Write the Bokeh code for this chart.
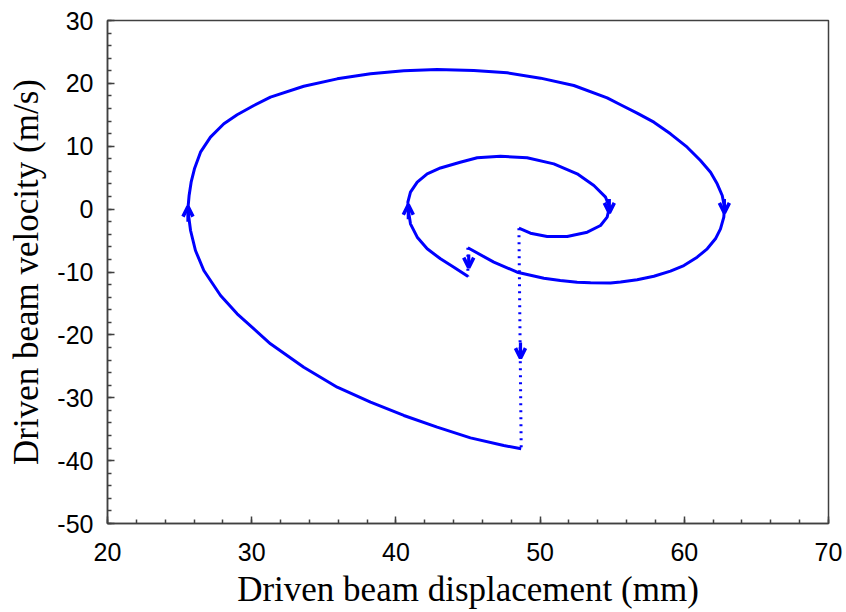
from bokeh.plotting import figure
from bokeh.models import Range1d, SingleIntervalTicker, Arrow, OpenHead, ColumnDataSource
from bokeh.embed import file_html
from bokeh.resources import INLINE

# ---- data ----
# outer trajectory (solid): from impact point at bottom, around the large loop
outer_x = [48.69, 47.48, 45.17, 42.86, 40.55, 38.24, 35.93, 33.61, 31.30, 28.99,
           27.84, 26.68, 26.10, 25.76, 25.57, 25.66, 25.80, 26.03, 26.45, 27.14,
           28.07, 28.99, 30.15, 31.30, 33.61, 35.93, 38.24, 40.55, 42.86, 45.40,
           47.72, 50.03, 52.34, 54.65, 55.58, 56.73, 57.89, 59.04, 60.20, 61.12,
           61.82, 62.28, 62.63, 62.79, 62.74, 62.51, 62.16, 61.59, 60.89, 59.97,
           59.04, 57.89, 56.73, 55.58, 54.88, 53.50, 52.57, 51.40, 50.26, 48.41,
           46.79, 44.99]
outer_y = [-38.12, -37.59, -36.38, -34.68, -32.82, -30.71, -28.32, -25.14, -21.42, -16.65,
           -13.74, -9.76, -6.58, -3.40, -0.10, 2.17, 4.29, 6.41, 9.06, 11.45,
           13.57, 15.00, 16.48, 17.81, 19.55, 20.72, 21.52, 22.00, 22.22, 22.05,
           21.68, 20.83, 19.66, 17.70, 16.60, 15.26, 13.83, 11.98, 9.85, 7.73,
           5.87, 4.03, 2.17, 0.30, -1.28, -3.13, -4.72, -6.31, -7.64, -8.97,
           -9.87, -10.67, -11.22, -11.58, -11.74, -11.72, -11.62, -11.35, -10.98, -10.03,
           -8.43, -6.15]

# first velocity jump (dotted)
jump1_x = [44.99, 44.99]
jump1_y = [-6.15, -10.72]

# inner trajectory (solid)
inner_x = [45.01, 44.02, 43.09, 42.17, 41.48, 41.01, 40.88, 40.83, 41.01, 41.48,
           42.17, 43.09, 44.46, 45.64, 47.25, 49.10, 50.95, 52.57, 53.73, 54.54,
           54.81, 54.65, 54.19, 53.27, 51.88, 50.49, 49.33, 48.53]
inner_y = [-10.72, -9.23, -7.90, -6.31, -4.46, -2.34, -0.40, 1.10, 2.70, 4.29,
           5.62, 6.55, 7.46, 8.16, 8.42, 8.16, 7.20, 5.62, 3.76, 1.90,
           0.30, -1.28, -2.60, -3.67, -4.35, -4.35, -3.83, -3.03]

# second velocity jump (dotted)
jump2_x = [48.53, 48.69]
jump2_y = [-3.03, -38.12]

# direction arrows: tail -> tip
arrow_x0 = [25.58, 62.78, 40.86, 54.80, 45.05, 48.64]
arrow_y0 = [-2.00, 1.60, -1.60, 1.60, -7.20, -21.20]
arrow_x1 = [25.58, 62.78, 40.86, 54.80, 45.05, 48.64]
arrow_y1 = [0.40, -0.60, 0.70, -0.60, -9.30, -23.70]

x_start, x_end = 20, 70
y_start, y_end = -50, 30
tick_values = [-50, -40, -30, -20, -10, 0, 10, 20, 30, 40, 50, 60, 70]
tick_labels = ["-50", "-40", "-30", "-20", "-10", "0", "10", "20", "30", "40", "50", "60", "70"]
x_label = "Driven beam displacement (mm)"
y_label = "Driven beam velocity (m/s)"

BLUE = "#0000FF"
AX = "#404040"

p = figure(width=846, height=612, output_backend="svg", toolbar_location=None,
           x_range=Range1d(x_start, x_end), y_range=Range1d(y_start, y_end),
           min_border_left=107, min_border_right=18, min_border_top=20,
           min_border_bottom=89)
p.background_fill_color = "white"
p.border_fill_color = "white"
p.outline_line_color = AX
p.outline_line_width = 1.5
p.grid.visible = False

LW = 3
p.line(outer_x, outer_y, line_color=BLUE, line_width=LW, line_join="round")
p.line(inner_x, inner_y, line_color=BLUE, line_width=LW, line_join="round")
p.line(jump1_x, jump1_y, line_color=BLUE, line_width=LW, line_dash="2 5")
p.line(jump2_x, jump2_y, line_color=BLUE, line_width=LW, line_dash="2 5")

src = ColumnDataSource(dict(x0=arrow_x0, y0=arrow_y0, x1=arrow_x1, y1=arrow_y1))
p.add_layout(Arrow(source=src, x_start="x0", y_start="y0", x_end="x1", y_end="y1",
                   line_color=BLUE, line_width=3.2,
                   end=OpenHead(size=10, line_color=BLUE, line_width=3.6)))

overrides = {v: s for v, s in zip(tick_values, tick_labels)}
for ax, lab in ((p.xaxis[0], x_label), (p.yaxis[0], y_label)):
    ax.ticker = SingleIntervalTicker(interval=10, num_minor_ticks=5)
    ax.major_label_overrides = overrides
    ax.axis_label = lab
    ax.axis_label_text_font = "Liberation Serif"
    ax.axis_label_text_font_size = "35px"
    ax.axis_label_text_font_style = "normal"
    ax.axis_label_text_color = "black"
    ax.major_label_text_font = "Liberation Sans"
    ax.major_label_text_font_size = "25px"
    ax.major_label_text_color = "black"
    ax.axis_line_color = AX
    ax.axis_line_width = 1.5
    ax.major_tick_line_color = AX
    ax.major_tick_line_width = 1.5
    ax.minor_tick_line_color = AX
    ax.minor_tick_line_width = 1.5
    ax.major_tick_in = 7
    ax.major_tick_out = 0
    ax.minor_tick_in = 4
    ax.minor_tick_out = 0

p.xaxis[0].major_label_standoff = 19
p.xaxis[0].axis_label_standoff = 6
p.yaxis[0].major_label_standoff = 14
p.yaxis[0].axis_label_standoff = 8

open("out.html", "w").write(file_html(p, INLINE))
